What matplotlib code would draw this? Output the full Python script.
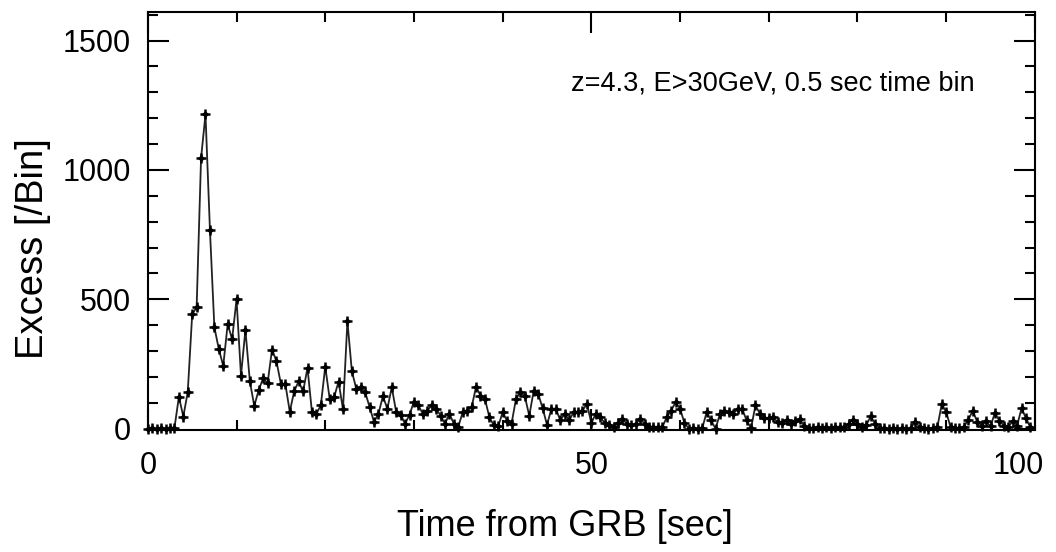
import numpy as np
import matplotlib
matplotlib.use("Agg")
import matplotlib.pyplot as plt
from matplotlib.ticker import MultipleLocator
from matplotlib.transforms import ScaledTranslation, blended_transform_factory

# Light curve: excess counts per 0.5 s bin
BIN_WIDTH = 0.5  # seconds
excess = [
    0, 2, -2, 1, 0, 2, 3, 123, 47, 142,                 # 0.0 - 4.5 s
    442, 469, 1046, 1215, 769, 392, 308, 243, 404, 346,  # 5.0 - 9.5 s
    500, 205, 382, 183, 88, 150, 195, 176, 306, 261,     # 10.0 - 14.5 s
    173, 173, 66, 145, 183, 144, 235, 64, 58, 90,        # 15.0 - 19.5 s
    240, 115, 122, 182, 75, 415, 222, 154, 160, 141,     # 20.0 - 24.5 s
    83, 26, 58, 126, 77, 160, 64, 54, 19, 54,            # 25.0 - 29.5 s
    105, 90, 58, 70, 90, 77, 51, 19, 58, 19,             # 30.0 - 34.5 s
    8, 64, 70, 83, 162, 128, 115, 45, 13, 9,             # 35.0 - 39.5 s
    64, 30, 19, 115, 141, 125, 50, 147, 135, 80,         # 40.0 - 44.5 s
    15, 77, 77, 32, 58, 32, 64, 64, 70, 96,              # 45.0 - 49.5 s
    22, 58, 45, 22, 13, 6, 22, 38, 19, 13,               # 50.0 - 54.5 s
    19, 38, 19, 6, 6, 6, 6, 45, 70, 103,                 # 55.0 - 59.5 s
    77, 22, 0, 3, 0, 2, 64, 32, 0, 58,                   # 60.0 - 64.5 s
    70, 64, 58, 77, 77, 32, 2, 90, 58, 40,               # 65.0 - 69.5 s
    42, 45, 25, 22, 35, 20, 30, 38, 10, 4,               # 70.0 - 74.5 s
    3, 6, 2, 5, 3, 6, 5, 8, 20, 35,                      # 75.0 - 79.5 s
    19, 5, 15, 48, 18, 3, 2, 0, 3, 0,                    # 80.0 - 84.5 s
    2, 0, 4, 25, 8, 2, 0, 3, 5, 95,                      # 85.0 - 89.5 s
    65, 5, 2, 3, 8, 35, 70, 26, 12, 28,                  # 90.0 - 94.5 s
    10, 62, 30, 12, 6, 30, 12, 80, 40, 5,                # 95.0 - 99.5 s
]
time = np.arange(len(excess)) * BIN_WIDTH

x_ticks = [0, 50, 100]
x_tick_labels = ['0', '50', '100']

LABEL_SIZE = 26
TICK_SIZE = 22

plt.rcParams['font.family'] = ['Liberation Sans', 'DejaVu Sans']

fig = plt.figure(figsize=(10.56, 5.52), dpi=100)
ax = fig.add_axes([0.140, 0.221, 0.840, 0.757])

# line plus cross-shaped markers (cross + small diamond core)
ax.plot(time, excess, color='#222222', lw=1.3, marker='+', ms=7, mew=1.8,
        mec='black', clip_on=False)
ax.plot(time, excess, ls='none', marker='D', ms=2.6, color='black', clip_on=False)

ax.set_xlim(0, 100)
ax.set_ylim(-5, 1610)

ax.set_xticks(x_ticks)
# the last label is drawn by hand below so it can be nudged inside the figure
ax.set_xticklabels(x_tick_labels[:-1] + [''])
ax.xaxis.set_minor_locator(MultipleLocator(10))
ax.yaxis.set_major_locator(MultipleLocator(500))
ax.yaxis.set_minor_locator(MultipleLocator(100))

ax.tick_params(which='both', direction='in', top=True, right=True, width=1.5)
ax.tick_params(which='major', length=15, labelsize=TICK_SIZE)
ax.tick_params(which='minor', length=7.5)
ax.tick_params(axis='x', which='major', pad=15)
ax.tick_params(axis='y', which='major', pad=12)
for spine in ax.spines.values():
    spine.set_linewidth(1.5)

trans = blended_transform_factory(ax.transData, ax.transAxes) + \
    ScaledTranslation(-12 / 72, -15 / 72, fig.dpi_scale_trans)
ax.text(x_ticks[-1], 0, x_tick_labels[-1], transform=trans, ha='center', va='top',
        fontsize=TICK_SIZE)

ax.set_xlabel('Time from GRB [sec]', fontsize=LABEL_SIZE)
ax.xaxis.set_label_coords(0.47, -0.19)
ax.set_ylabel('Excess [/Bin]', fontsize=27.5)
ax.yaxis.set_label_coords(-0.109, 0.435)

ax.text(0.932, 0.83, 'z=4.3, E>30GeV, 0.5 sec time bin', transform=ax.transAxes,
        ha='right', va='center', fontsize=19.5)

fig.savefig('out.png', dpi=100)
